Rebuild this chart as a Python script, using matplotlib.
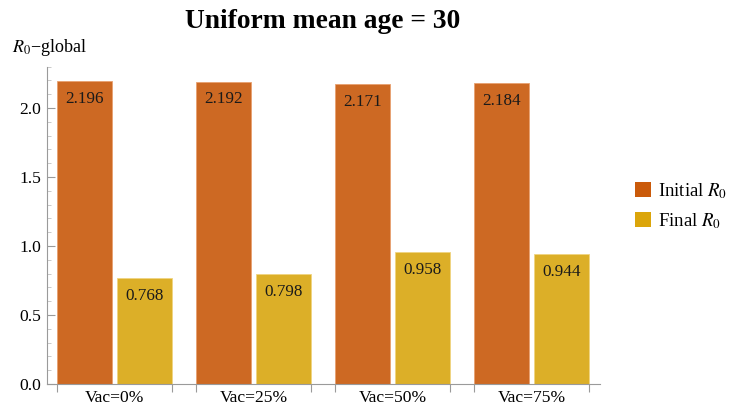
import numpy as np
import matplotlib
matplotlib.use('Agg')
import matplotlib.pyplot as plt
from matplotlib.patches import Patch
from matplotlib import ticker

#data:
groups = ['Vac=0%', 'Vac=25%', 'Vac=50%', 'Vac=75%']
initialR0 = [2.196, 2.192, 2.171, 2.184]
finalR0 = [0.768, 0.798, 0.958, 0.944]

#style:
plt.rcParams['font.family'] = ['Liberation Serif', 'DejaVu Serif']
plt.rcParams['mathtext.fontset'] = 'stix'
orange = '#CD6923'
yellow = '#DCAF28'
axisGray = '#9a9a9a'

fig = plt.figure(figsize=(7.39, 4.08), dpi=100)
ax = fig.add_axes([47/739, 24/408, 553/739, 317.4/408])

_x = np.arange(len(groups))
width = 0.396
offset = 0.2176
ax.bar(_x-offset, initialR0, width, color=orange,
       edgecolor='#e8a070', linewidth=0.6)
ax.bar(_x+offset, finalR0, width, color=yellow,
       edgecolor='#f0d480', linewidth=0.6)
for x, y in zip(_x, initialR0):
    ax.text(x-offset, y-0.13, f'{y:.3f}', ha='center', va='center',
            fontsize=12.3, color='#1a1a1a')
for x, y in zip(_x, finalR0):
    ax.text(x+offset, y-0.13, f'{y:.3f}', ha='center', va='center',
            fontsize=12.3, color='#1a1a1a')

ax.set_xlim(-0.486, 3.493)
ax.set_ylim(0, 2.3)

#group separators as x ticks, names centred under each group
edges = np.sort(np.concatenate([_x-0.4137, _x+0.4137]))
ax.set_xticks(edges)
ax.set_xticklabels([])
ax.set_xticks(_x, minor=True)
ax.set_xticklabels(groups, minor=True, fontsize=12.6)
ax.tick_params(axis='x', which='major', direction='out', length=6,
               width=0.8, color=axisGray)
ax.tick_params(axis='x', which='minor', length=0, pad=4)

ax.yaxis.set_major_locator(ticker.MultipleLocator(0.5))
ax.yaxis.set_minor_locator(ticker.MultipleLocator(0.1))
ax.yaxis.set_major_formatter('{x:0.1f}')
ax.tick_params(axis='y', which='major', direction='in', length=6,
               width=0.8, color=axisGray, labelsize=12.6, pad=4)
ax.tick_params(axis='y', which='minor', direction='in', length=3,
               width=0.6, color='#c0c0c0')

for side in ['top', 'right']:
    ax.spines[side].set_visible(False)
for side in ['left', 'bottom']:
    ax.spines[side].set_color(axisGray)
    ax.spines[side].set_linewidth(0.8)

fig.text(323/739, 1-28/408, 'Uniform mean age = 30', ha='center',
         va='baseline', fontsize=19.8, fontweight='bold')
fig.text(12/739, 1-52/408, r'$R_0$' + '\u2212global', ha='left',
         va='baseline', fontsize=13)

handles = [Patch(facecolor='#CA5A0A', edgecolor='none'),
           Patch(facecolor='#DBA50A', edgecolor='none')]
fig.legend(handles, [r'Initial $R_0$', r'Final $R_0$'],
           loc='center left', bbox_to_anchor=(618/739, 1-206/408),
           frameon=False, fontsize=13.5, handlelength=0.85, handleheight=0.85,
           handletextpad=0.4, labelspacing=0.55)

fig.savefig('out.png', dpi=100)
